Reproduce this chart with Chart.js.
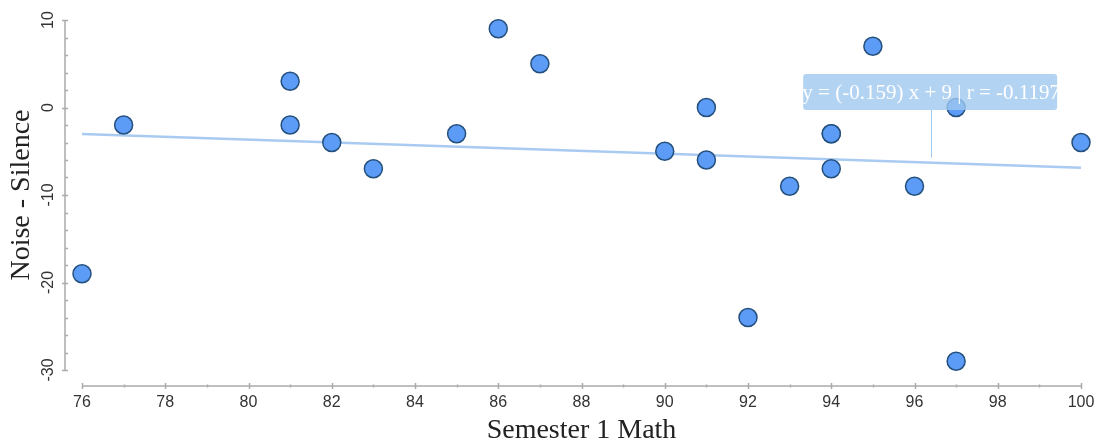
<!DOCTYPE html>
<html>
<head>
<meta charset="utf-8">
<script src="https://cdn.jsdelivr.net/npm/chart.js@4/dist/chart.umd.min.js"></script>
<style>
html,body{margin:0;padding:0;background:#fff;}
#wrap{width:1098px;height:444px;}
</style>
</head>
<body>
<div id="wrap"><canvas id="c" width="1098" height="444"></canvas></div>
<script>
// Data
const mathScores = [76, 77, 81, 81, 82, 83, 85, 86, 87, 90, 91, 91, 92, 93, 94, 94, 94, 95, 96, 97, 97, 100];
const noiseMinusSilence = [-19, -2, 3, -2, -4, -7, -3, 9, 5, -5, 0, -6, -24, -9, -3, -3, -7, 7, -9, 0, -29, -4];
const trendX = [76, 100];
const trendY = [-3.03, -6.88];
const xTicks = [76, 78, 80, 82, 84, 86, 88, 90, 92, 94, 96, 98, 100];
const yTicks = [10, 0, -10, -20, -30];
const xTitle = 'Semester 1 Math';
const yTitle = 'Noise - Silence';
const annotationText = 'y = (-0.159) x + 9 | r = -0.1197';
const annotationAnchor = [96.4, -5.7];

const points = mathScores.map((x, i) => ({x: x, y: noiseMinusSilence[i]}));
const trend = trendX.map((x, i) => ({x: x, y: trendY[i]}));

const axesPlugin = {
  id: 'customAxes',
  afterDraw(chart) {
    const ctx = chart.ctx;
    const xs = chart.scales.x, ys = chart.scales.y;
    const ca = chart.chartArea;
    const axisY = ca.bottom + 16;
    const axisX = ca.left - 17;
    ctx.save();
    ctx.strokeStyle = '#aaaaaa';
    ctx.lineWidth = 1.5;
    // x axis
    ctx.beginPath();
    ctx.moveTo(xs.getPixelForValue(xs.min), axisY);
    ctx.lineTo(xs.getPixelForValue(xs.max), axisY);
    ctx.stroke();
    for (let v = xs.min; v <= xs.max; v++) {
      const px = Math.round(xs.getPixelForValue(v)) + 0.5;
      const major = xTicks.includes(v);
      ctx.beginPath();
      ctx.moveTo(px, axisY - (major ? 3 : 1.5));
      ctx.lineTo(px, axisY + (major ? 3 : 1.5));
      ctx.stroke();
    }
    // y axis
    ctx.beginPath();
    ctx.moveTo(axisX, ys.getPixelForValue(ys.max));
    ctx.lineTo(axisX, ys.getPixelForValue(ys.min));
    ctx.stroke();
    for (let v = ys.min; v <= ys.max; v += 2) {
      const py = Math.round(ys.getPixelForValue(v)) + 0.5;
      const major = yTicks.includes(v);
      ctx.beginPath();
      ctx.moveTo(axisX - (major ? 3 : 0), py);
      ctx.lineTo(axisX + 3, py);
      ctx.stroke();
    }
    // tick labels
    ctx.fillStyle = '#333333';
    ctx.font = '16px "Liberation Sans", Arial, sans-serif';
    ctx.textAlign = 'center';
    ctx.textBaseline = 'middle';
    xTicks.forEach(v => {
      ctx.fillText(String(v), xs.getPixelForValue(v), axisY + 17);
    });
    yTicks.forEach(v => {
      ctx.save();
      ctx.translate(axisX - 16, ys.getPixelForValue(v));
      ctx.rotate(-Math.PI / 2);
      ctx.fillText(String(v), 0, 0);
      ctx.restore();
    });
    // titles
    ctx.fillStyle = '#222222';
    ctx.font = '28px "Liberation Serif", "Times New Roman", serif';
    ctx.fillText(xTitle, (ca.left + ca.right) / 2, 431);
    ctx.save();
    ctx.translate(22, (ca.top + ca.bottom) / 2);
    ctx.rotate(-Math.PI / 2);
    ctx.fillText(yTitle, 0, 0);
    ctx.restore();
    // annotation
    const ax = xs.getPixelForValue(annotationAnchor[0]);
    const ay = ys.getPixelForValue(annotationAnchor[1]);
    const boxW = 254, boxH = 36;
    const bx = ax - 128, by = 74;
    ctx.strokeStyle = 'rgba(150,195,240,0.9)';
    ctx.lineWidth = 1;
    ctx.beginPath();
    ctx.moveTo(Math.round(ax) + 0.5, by + boxH);
    ctx.lineTo(Math.round(ax) + 0.5, ay);
    ctx.stroke();
    ctx.fillStyle = 'rgba(160,200,240,0.8)';
    ctx.beginPath();
    if (ctx.roundRect) ctx.roundRect(bx, by, boxW, boxH, 3); else ctx.rect(bx, by, boxW, boxH);
    ctx.fill();
    ctx.fillStyle = '#ffffff';
    ctx.font = '21px "Liberation Serif", "Times New Roman", serif';
    ctx.fillText(annotationText, ax, by + boxH / 2 + 1);
    ctx.restore();
  }
};

new Chart(document.getElementById('c'), {
  type: 'scatter',
  data: {
    datasets: [
      {
        label: 'trend',
        type: 'line',
        data: trend,
        borderColor: '#a9cbf1',
        borderWidth: 2.5,
        pointRadius: 0,
        fill: false,
        order: 2
      },
      {
        label: 'scores',
        data: points,
        backgroundColor: '#5d9cf6',
        borderColor: '#24507e',
        borderWidth: 1.5,
        pointRadius: 9,
        pointHoverRadius: 9,
        clip: false,
        order: 1
      }
    ]
  },
  options: {
    responsive: false,
    animation: false,
    events: [],
    layout: { padding: { left: 82, right: 17, top: 20, bottom: 74 } },
    plugins: { legend: { display: false }, tooltip: { enabled: false } },
    scales: {
      x: { type: 'linear', min: 76, max: 100, display: false },
      y: { type: 'linear', min: -30, max: 10, display: false }
    }
  },
  plugins: [axesPlugin]
});
</script>
</body>
</html>
